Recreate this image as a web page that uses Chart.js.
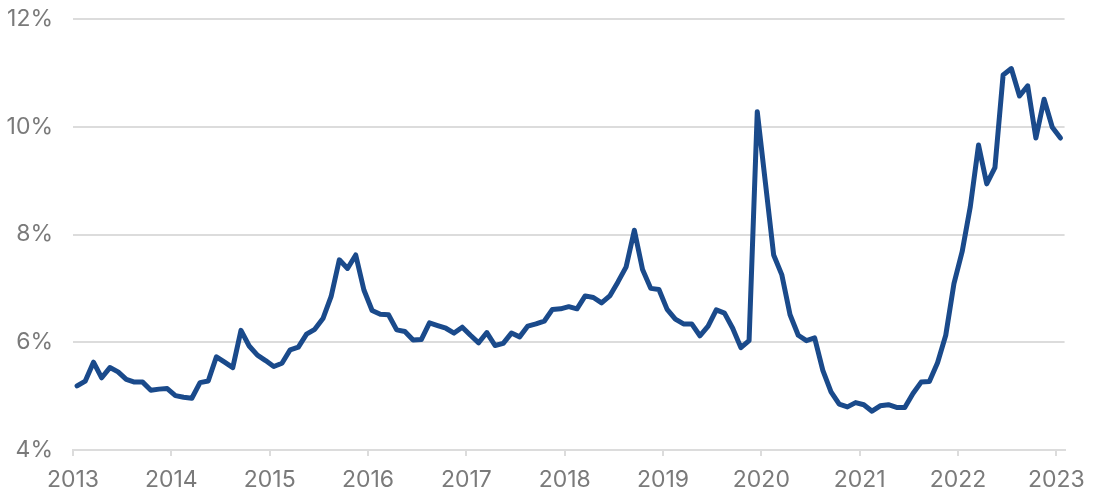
<!DOCTYPE html>
<html>
<head>
<meta charset="utf-8">
<script src="https://cdn.jsdelivr.net/npm/chart.js@4.4.1/dist/chart.umd.min.js"></script>
<style>
    html, body { margin: 0; padding: 0; background: #fff; }
    #wrap { width: 1095px; height: 491px; position: relative; }
</style>
</head>
<body>
<div id="wrap"><canvas id="rateChart"></canvas></div>
<script>
// Monthly series, Jan 2013 - Jan 2023
const startYear = 2013;
const tickYears = [2013, 2014, 2015, 2016, 2017, 2018, 2019, 2020, 2021, 2022, 2023];
const yTicks = [4, 6, 8, 10, 12];

const rateValues = [
    // 2013
    5.19, 5.28, 5.63, 5.34, 5.53, 5.45, 5.31, 5.26, 5.26, 5.11, 5.13, 5.14,
    // 2014
    5.01, 4.98, 4.96, 5.25, 5.28, 5.73, 5.63, 5.53, 6.22, 5.93, 5.76, 5.66,
    // 2015
    5.55, 5.61, 5.86, 5.91, 6.15, 6.24, 6.44, 6.85, 7.53, 7.37, 7.62, 6.97,
    // 2016
    6.59, 6.52, 6.51, 6.23, 6.20, 6.04, 6.05, 6.36, 6.31, 6.26, 6.17, 6.28,
    // 2017
    6.13, 5.99, 6.18, 5.94, 5.98, 6.17, 6.10, 6.30, 6.34, 6.39, 6.61, 6.62,
    // 2018
    6.66, 6.62, 6.86, 6.83, 6.73, 6.86, 7.12, 7.40, 8.08, 7.35, 7.00, 6.98,
    // 2019
    6.61, 6.43, 6.34, 6.34, 6.12, 6.30, 6.60, 6.54, 6.26, 5.90, 6.03, 10.28,
    // 2020
    8.95, 7.62, 7.25, 6.51, 6.13, 6.03, 6.08, 5.48, 5.08, 4.85, 4.80, 4.88,
    // 2021
    4.84, 4.72, 4.82, 4.84, 4.79, 4.79, 5.05, 5.26, 5.27, 5.62, 6.13, 7.09,
    // 2022
    7.68, 8.52, 9.66, 8.94, 9.24, 10.96, 11.08, 10.57, 10.76, 9.79, 10.51, 9.99,
    // 2023
    9.79
];

const points = rateValues.map((v, i) => ({ x: startYear + (i + 0.5) / 12, y: v }));

const labelFont = { family: "Inter, 'Open Sans', sans-serif", size: 23 };
const labelColor = '#7a7a7a';
const gridColor = '#dcdcdc';

new Chart(document.getElementById('rateChart'), {
    type: 'line',
    data: {
        datasets: [{
            data: points,
            borderColor: '#1a4a8b',
            borderWidth: 5,
            borderJoinStyle: 'round',
            borderCapStyle: 'round',
            pointRadius: 0,
            tension: 0,
            fill: false
        }]
    },
    options: {
        responsive: true,
        maintainAspectRatio: false,
        animation: false,
        layout: { padding: { top: 19, right: 28, left: 0, bottom: 0 } },
        plugins: {
            legend: { display: false },
            tooltip: { enabled: false }
        },
        scales: {
            x: {
                type: 'linear',
                min: startYear,
                max: tickYears[tickYears.length - 1] + 1 / 12,
                afterBuildTicks: (scale) => {
                    scale.ticks = tickYears.map(y => ({ value: y }));
                },
                afterFit: (scale) => { scale.height = 41; },
                border: { display: true, color: gridColor, width: 2 },
                grid: {
                    drawOnChartArea: false,
                    drawTicks: true,
                    tickLength: 6,
                    color: gridColor,
                    lineWidth: 2
                },
                ticks: {
                    font: labelFont,
                    color: labelColor,
                    padding: 10,
                    maxRotation: 0,
                    autoSkip: false,
                    callback: (v) => String(v)
                }
            },
            y: {
                min: 4,
                max: 12,
                afterBuildTicks: (scale) => {
                    scale.ticks = yTicks.map(v => ({ value: v }));
                },
                afterFit: (scale) => { scale.width = 73; },
                border: { display: false },
                grid: {
                    drawTicks: true,
                    tickLength: 20,
                    tickColor: 'rgba(0,0,0,0)',
                    color: gridColor,
                    lineWidth: 2
                },
                ticks: {
                    font: labelFont,
                    color: labelColor,
                    padding: 0,
                    callback: (v) => v + '%'
                }
            }
        }
    }
});
</script>
</body>
</html>
